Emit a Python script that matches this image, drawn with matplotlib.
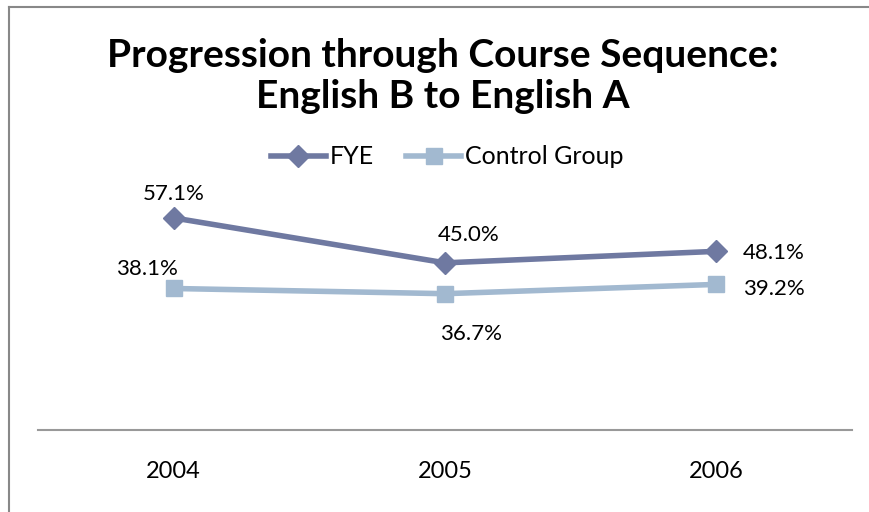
import numpy as np
from matplotlib import pyplot as plt
from matplotlib.lines import Line2D

plt.rcParams['font.family'] = ['Lato', 'DejaVu Sans']

# Data
years = ['2004', '2005', '2006']
fye = [57.1, 45.0, 48.1]
control = [38.1, 36.7, 39.2]

# label offsets in points (dx, dy, ha)
fye_offsets = [(0, 17, 'center'), (17, 20, 'center'), (19, -1, 'left')]
control_offsets = [(-19, 14, 'center'), (19, -29, 'center'), (19, -3, 'left')]

fye_color = '#6f79a1'
control_color = '#a2b9d0'

fig = plt.figure(figsize=(8.7, 5.12), dpi=100)
W, H = 870, 512

# outer frame (left and top edges visible)
fig.add_artist(Line2D([9 / W, 9 / W], [0, 1 - 7 / H], color='#888888', lw=1.5))
fig.add_artist(Line2D([9 / W, 1], [1 - 7 / H, 1 - 7 / H], color='#888888', lw=1.5))

ax = fig.add_axes([38 / W, (H - 430) / H, (852 - 38) / W, (430 - 170) / H])
x = np.arange(len(years))

ax.plot(x, fye, color=fye_color, lw=4, marker='D', markersize=11, label='FYE')
ax.plot(x, control, color=control_color, lw=4, marker='s', markersize=12,
        label='Control Group')

for xi, v, (dx, dy, ha) in zip(x, fye, fye_offsets):
    ax.annotate(f'{v:.1f}%', (xi, v), xytext=(dx, dy), textcoords='offset points',
                ha=ha, va='center', fontsize=16)
for xi, v, (dx, dy, ha) in zip(x, control, control_offsets):
    ax.annotate(f'{v:.1f}%', (xi, v), xytext=(dx, dy), textcoords='offset points',
                ha=ha, va='center', fontsize=16)

ax.set_xlim(-0.5, 2.5)
ax.set_ylim(0, 70)
ax.set_xticks(x)
ax.set_xticklabels(years, fontsize=17)
ax.set_yticks([])
ax.tick_params(axis='x', length=0, pad=22)
for side in ['top', 'right', 'left']:
    ax.spines[side].set_visible(False)
ax.spines['bottom'].set_color('#999999')
ax.spines['bottom'].set_linewidth(1.5)

fig.text(443 / W, 1 - 76 / H, 'Progression through Course Sequence:\nEnglish B to English A',
         ha='center', va='center', fontsize=28, fontweight='bold', linespacing=1.22)

fig.legend(loc='center', bbox_to_anchor=(447 / W, 1 - 157 / H), ncol=2, frameon=False,
           fontsize=18, handlelength=2.2, columnspacing=1.3, handletextpad=0.15)

fig.savefig('out.png', dpi=100, facecolor='white')
